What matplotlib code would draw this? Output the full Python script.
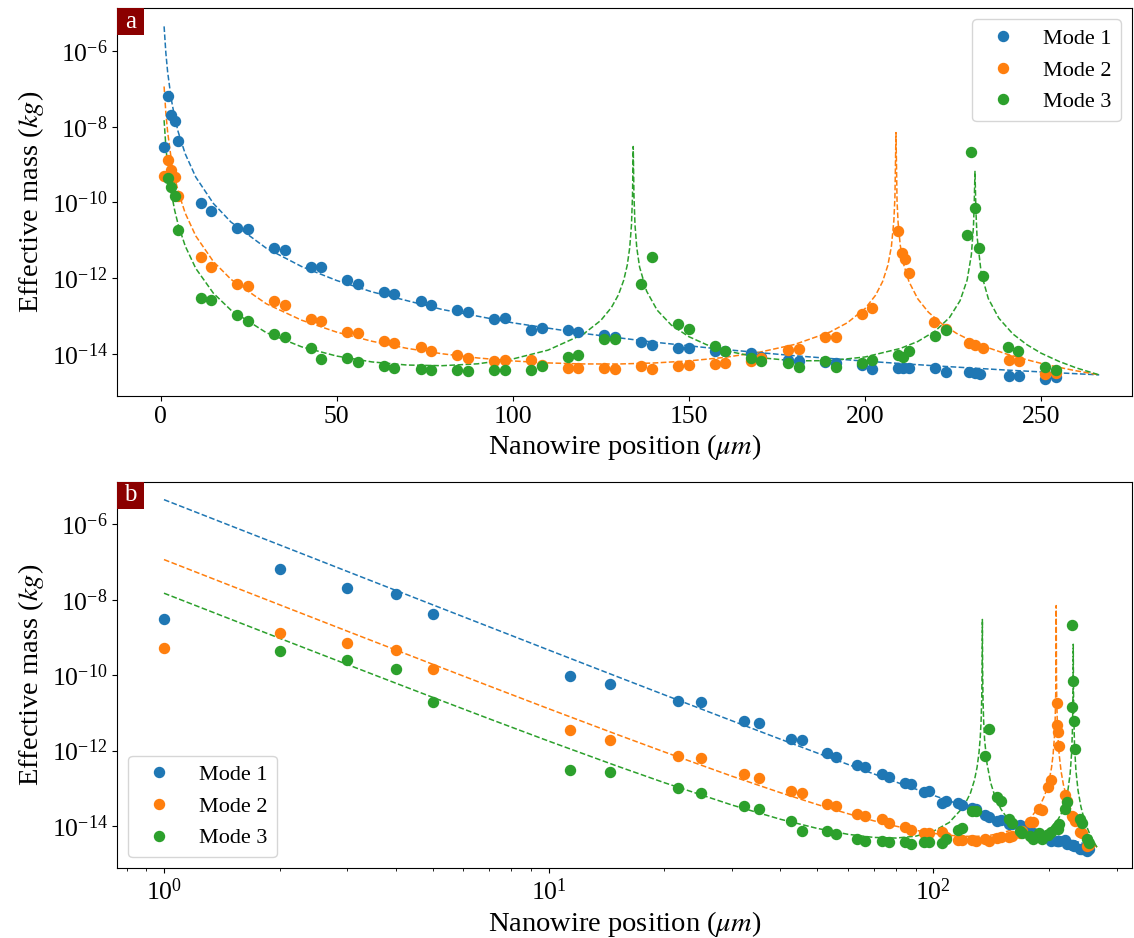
import matplotlib
matplotlib.use('Agg')
import matplotlib.pyplot as plt
from matplotlib.ticker import FixedLocator, NullLocator
from matplotlib.patches import Rectangle

plt.rcParams['font.family'] = ['Liberation Serif', 'DejaVu Serif']
plt.rcParams['mathtext.fontset'] = 'stix'
plt.rcParams['font.size'] = 20.5
plt.rcParams['xtick.labelsize'] = 18.5
plt.rcParams['ytick.labelsize'] = 18.5

colors = ['#1f77b4', '#ff7f0e', '#2ca02c']
labels = ['Mode 1', 'Mode 2', 'Mode 3']

# measured effective mass per mode (position in um, mass in kg)
mode1_x = [1, 2, 3, 4, 5, 11.4, 14.4, 21.7, 24.9, 32.2, 35.3, 42.6, 45.5, 53.0, 56.0,
           63.4, 66.4, 73.8, 76.9, 84.3, 87.3, 94.7, 97.7, 105.3, 108.2,
           115.7, 118.6, 126.0, 129.0, 136.5, 139.5, 146.9, 149.9, 157.3, 160.3,
           167.7, 170.6, 178.2, 181.2, 188.6, 191.7, 199.1, 202.1, 209.5, 210.7,
           212.4, 219.9, 223.0, 229.4, 231.3, 232.7, 240.8, 243.8, 251.2, 254.1]
mode1_m = [3.0e-9, 6.4e-8, 2.0e-8, 1.4e-8, 4.2e-9, 9.5e-11, 5.8e-11, 2.1e-11, 1.95e-11, 6.1e-12,
           5.5e-12, 2.0e-12, 1.9e-12, 8.6e-13, 6.9e-13,
           4.2e-13, 3.7e-13, 2.4e-13, 1.95e-13, 1.4e-13, 1.3e-13, 8.1e-14, 8.7e-14, 4.1e-14, 4.7e-14,
           4.2e-14, 3.7e-14, 3.1e-14, 2.8e-14, 2.0e-14, 1.7e-14, 1.4e-14, 1.45e-14, 1.15e-14, 1.15e-14,
           1.07e-14, 8.3e-15, 7.0e-15, 6.4e-15, 6.2e-15, 5.6e-15, 5.0e-15, 4.0e-15, 4.1e-15, 4.1e-15,
           4.1e-15, 4.3e-15, 3.3e-15, 3.2e-15, 3.1e-15, 2.9e-15, 2.5e-15, 2.5e-15, 2.2e-15, 2.4e-15]

mode2_x = [1, 2, 3, 4, 5, 11.4, 14.4, 21.7, 24.9, 32.2, 35.3, 42.6, 45.5, 53.0, 56.0,
           63.4, 66.4, 73.8, 76.9, 84.3, 87.3, 94.7, 97.7, 105.3, 108.2,
           115.7, 118.6, 126.0, 129.0, 136.5, 139.5, 146.9, 149.9, 157.3, 160.3,
           167.7, 170.6, 178.2, 181.2, 188.6, 191.7, 199.1, 202.1, 209.5, 210.4,
           211.4, 212.5, 219.7, 223.0, 229.4, 231.3, 233.5, 240.8, 243.8, 251.2, 254.1]
mode2_m = [5.1e-10, 1.35e-9, 7.1e-10, 4.7e-10, 1.5e-10, 3.5e-12, 1.9e-12, 7.1e-13, 6.3e-13, 2.4e-13,
           1.9e-13, 8.3e-14, 7.4e-14, 3.8e-14, 3.5e-14,
           2.1e-14, 1.9e-14, 1.5e-14, 1.2e-14, 9.3e-15, 7.9e-15, 6.4e-15, 6.6e-15, 6.8e-15, 5.0e-15,
           4.3e-15, 4.3e-15, 4.3e-15, 3.9e-15, 4.6e-15, 4.0e-15, 4.8e-15, 5.0e-15, 5.2e-15, 5.6e-15,
           6.4e-15, 7.5e-15, 1.25e-14, 1.3e-14, 2.8e-14, 2.7e-14, 1.1e-13, 1.65e-13, 1.8e-11, 4.7e-12,
           3.2e-12, 1.35e-12, 6.8e-14, 4.5e-14, 1.9e-14, 1.7e-14, 1.4e-14, 6.8e-15, 6.5e-15, 2.9e-15, 3.1e-15]

mode3_x = [2, 3, 4, 5, 11.4, 14.4, 21.7, 24.9, 32.2, 35.3, 42.6, 45.5, 53.0, 56.0,
           63.4, 66.4, 73.8, 76.9, 84.3, 87.3, 94.7, 97.7, 105.3, 108.2,
           115.7, 118.6, 126.0, 129.0, 136.5, 139.5, 146.9, 149.9, 157.3, 160.3,
           167.7, 170.6, 178.2, 181.2, 188.6, 191.7, 199.1, 202.1, 209.5, 210.9,
           212.4, 219.9, 223.0, 229.0, 230.0, 231.3, 232.3, 233.5, 240.5, 243.5, 251.2, 254.1]
mode3_m = [4.4e-10, 2.6e-10, 1.5e-10, 1.9e-11, 3.0e-13, 2.7e-13, 1.05e-13, 7.4e-14, 3.3e-14, 2.8e-14,
           1.4e-14, 7.2e-15, 7.5e-15, 6.2e-15,
           4.6e-15, 4.1e-15, 3.9e-15, 3.7e-15, 3.7e-15, 3.4e-15, 3.7e-15, 3.7e-15, 3.6e-15, 4.6e-15,
           8.1e-15, 9.1e-15, 2.5e-14, 2.5e-14, 7.1e-13, 3.7e-12, 6.0e-14, 4.5e-14, 1.55e-14, 1.2e-14,
           7.5e-15, 6.4e-15, 5.6e-15, 4.5e-15, 6.4e-15, 4.5e-15, 5.8e-15, 6.8e-15, 9.5e-15, 8.3e-15,
           1.15e-14, 2.9e-14, 4.3e-14, 1.4e-11, 2.2e-9, 7.0e-11, 6.2e-12, 1.1e-12, 1.5e-14, 1.2e-14,
           4.5e-15, 3.6e-15]

# model curves (dashed)
fit1_x = [1, 1.5, 2, 3, 4, 5, 7, 10, 15, 20, 30, 40, 50, 60, 80, 100, 120, 140, 160, 180,
          200, 220, 240, 255, 266.5]
fit1_m = [4.50e-6, 8.91e-7, 2.83e-7, 5.60e-8, 1.78e-8, 7.31e-9, 1.92e-9, 4.65e-10, 9.34e-11, 3.01e-11,
          6.16e-12, 2.02e-12, 8.60e-13, 4.31e-13, 1.47e-13, 6.54e-14, 3.43e-14, 2.02e-14, 1.29e-14, 8.82e-15,
          6.34e-15, 4.76e-15, 3.69e-15, 3.11e-15, 2.75e-15]

fit2_x = [1, 1.5, 2, 3, 4, 5, 7, 10, 15, 20, 30, 40, 50, 60, 70, 80, 90, 100,
          110, 120, 130, 140, 150, 160, 170, 180, 190, 195, 200, 203, 205, 206.5, 207.5, 208.2,
          208.5, 208.8, 209.1, 209.4, 210, 211, 212.5, 215, 218, 222, 226, 230, 235, 240,
          245, 250, 255, 260, 266.5]
fit2_m = [1.16e-7, 2.30e-8, 7.32e-9, 1.46e-9, 4.69e-10, 1.94e-10, 5.18e-11, 1.29e-11,
          2.72e-12, 9.21e-13, 2.09e-13, 7.70e-14, 3.71e-14, 2.13e-14, 1.38e-14, 9.92e-15, 7.71e-15, 6.42e-15,
          5.69e-15, 5.35e-15, 5.33e-15, 5.66e-15, 6.43e-15, 7.93e-15, 1.09e-14, 1.75e-14, 3.71e-14, 6.57e-14,
          1.55e-13, 3.50e-13, 8.04e-13, 2.18e-12, 6.85e-12, 3.28e-11, 1.39e-10, 7.0e-9, 1.09e-10, 2.95e-11,
          7.51e-12, 2.26e-12, 7.95e-13, 2.80e-13, 1.25e-13, 5.96e-14, 3.44e-14, 2.23e-14, 1.43e-14, 9.92e-15,
          7.27e-15, 5.54e-15, 4.36e-15, 3.52e-15, 2.75e-15]

fit3_x = [1, 1.5, 2, 3, 4, 5, 7, 10, 15, 20, 30, 40, 50, 60, 70, 80, 90, 100, 110, 120,
          125, 128, 130, 131.5, 132.5, 133.2, 133.7, 134.0, 134.2, 134.4, 134.7, 135.2, 136, 138,
          141, 145, 150, 155, 160, 170, 180, 190, 200, 210, 215, 220, 224, 227, 229, 230.2,
          230.8, 231.0, 231.23, 231.5, 231.8, 233, 235, 238, 242, 246, 250, 255, 260, 266.5]
fit3_m = [1.49e-8, 2.97e-9, 9.48e-10, 1.91e-10, 6.17e-11, 2.58e-11, 7.00e-12, 1.79e-12, 3.96e-13, 1.41e-13,
          3.60e-14, 1.52e-14, 8.64e-15, 6.05e-15, 5.00e-15, 4.81e-15, 5.39e-15, 7.23e-15, 1.24e-14, 3.26e-14,
          7.58e-14, 1.66e-13, 3.60e-13, 8.73e-13, 2.19e-12, 6.36e-12, 2.54e-11, 1.59e-10, 3.0e-9, 1.59e-10,
          2.54e-11, 6.35e-12, 1.95e-12, 4.49e-13,
          1.41e-13, 5.71e-14, 2.81e-14, 1.73e-14, 1.22e-14, 7.85e-15, 6.47e-15, 6.53e-15, 8.17e-15, 1.37e-14,
          2.10e-14, 4.00e-14, 9.03e-14, 2.52e-13, 8.83e-13, 4.08e-12,
          2.32e-11, 8.24e-11, 6.6e-10, 5.86e-11, 1.31e-11, 1.34e-12, 2.88e-13, 8.67e-14, 3.31e-14, 1.72e-14,
          1.03e-14, 6.29e-15, 4.20e-15, 2.75e-15]

points = [(mode1_x, mode1_m), (mode2_x, mode2_m), (mode3_x, mode3_m)]
fits = [(fit1_x, fit1_m), (fit2_x, fit2_m), (fit3_x, fit3_m)]

fig = plt.figure(figsize=(11.34, 9.38), dpi=100)
ax_a = fig.add_axes([0.1034, 0.5778, 0.8948, 0.4133])
ax_b = fig.add_axes([0.1034, 0.0743, 0.8948, 0.4122])

for ax, letter in [(ax_a, 'a'), (ax_b, 'b')]:
    for (fx, fm), c in zip(fits, colors):
        ax.plot(fx, fm, '--', color=c, lw=1.1)
    for (px, pm), c, lab in zip(points, colors, labels):
        ax.plot(px, pm, 'o', color=c, ms=7.2, label=lab)
    ax.set_yscale('log')
    ax.set_ylim(10 ** -15.12, 10 ** -4.87)
    ax.yaxis.set_major_locator(FixedLocator([1e-14, 1e-12, 1e-10, 1e-8, 1e-6]))
    ax.yaxis.set_minor_locator(NullLocator())
    ax.set_ylabel('Effective mass ($kg$)')
    ax.set_xlabel('Nanowire position ($\\mu m$)', labelpad=3)

    # panel tag in the corner
    w = 27 / (0.8948 * 1134)
    h = 27 / (0.4133 * 938)
    ax.add_patch(Rectangle((0, 1 - h), w, h, transform=ax.transAxes,
                           facecolor='#8b0000', edgecolor='none', clip_on=False, zorder=5))
    ax.text(w / 2, 1 - h / 2, letter, transform=ax.transAxes, ha='center', va='center',
            color='white', fontsize=18, zorder=6)

ax_a.set_xlim(-12.3, 275.8)
ax_a.set_xticks([0, 50, 100, 150, 200, 250])
ax_a.legend(loc='upper right', fontsize=16)

ax_b.set_xscale('log')
ax_b.set_xlim(0.756, 328.6)
ax_b.legend(loc='lower left', fontsize=16)

fig.savefig('out.png', dpi=100)
